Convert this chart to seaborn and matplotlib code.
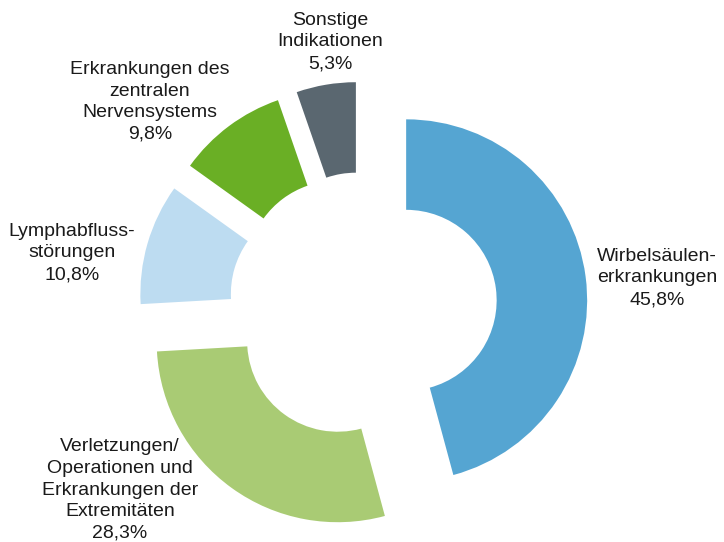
import matplotlib.pyplot as plt
import seaborn as sns

sns.set_theme(style="white")
plt.rcParams['font.family'] = ['Liberation Sans', 'DejaVu Sans']

# Data (clockwise from 12 o'clock)
categories = ['Wirbelsäulen-\nerkrankungen',
              'Verletzungen/\nOperationen und\nErkrankungen der\nExtremitäten',
              'Lymphabfluss-\nstörungen',
              'Erkrankungen des\nzentralen\nNervensystems',
              'Sonstige\nIndikationen']
shares = [45.8, 28.3, 10.8, 9.8, 5.3]
colors = ['#55a5d2', '#a9cb74', '#bddcf1', '#6aaf25', '#5a6770']

# label anchor positions in units of pie radius
label_x = [1.625, -1.343, -1.608, -1.177, -0.182]
label_y = [0.155, -1.017, 0.293, 1.128, 1.459]

fig = plt.figure(figsize=(7.24, 5.42), dpi=100)
ax = fig.add_axes([0, 0, 1, 1])

ax.pie(shares, colors=colors, startangle=90, counterclock=False,
       explode=[0.24] * len(shares), radius=1,
       wedgeprops=dict(width=0.5, linewidth=0))

for name, val, x, y in zip(categories, shares, label_x, label_y):
    txt = name + '\n' + f'{val:.1f}%'.replace('.', ',')
    ax.text(x, y, txt, ha='center', va='center', fontsize=14,
            linespacing=1.35, color='#1a1a1a')

ax.set_xlim(-2.006, 1.994)
ax.set_ylim(-1.304, 1.691)
ax.set_aspect('auto')
ax.axis('off')

fig.savefig('out.png', dpi=100)
